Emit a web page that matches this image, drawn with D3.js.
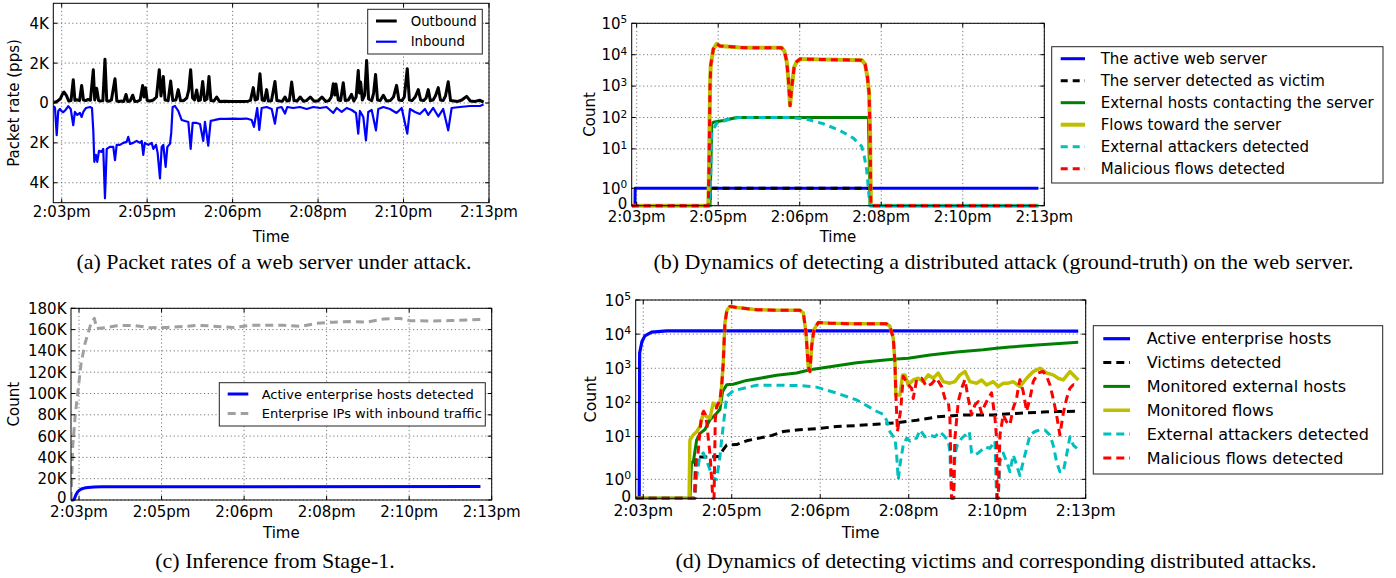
<!DOCTYPE html>
<html><head><meta charset="utf-8">
<script src="https://cdn.jsdelivr.net/npm/d3@7"></script>
<style>
body{margin:0;background:#fff}
svg text{font-family:"DejaVu Sans",sans-serif;fill:#000}
svg text.cap{font-family:"Liberation Serif","Times New Roman",serif}
</style></head>
<body><svg id="fig" width="1396" height="578"></svg>
<script>
// ---------------- DATA ----------------
const timeTicks = [0, 110, 220, 330, 440, 550];           // seconds from 2:03pm tick
const timeLabels = ["2:03pm", "2:05pm", "2:06pm", "2:08pm", "2:10pm", "2:13pm"];

// (a) packet rates [time, pps]
const aOutbound = [[-10,30],[-6,80],[-2,200],[1,450],[3,550],[6,380],[9,100],[12,120],[14.9,1170],[17,130],[20,160],[23,120],[25.7,880],[28,150],[31,120],[34,180],[37,140],[40.7,1670],[42.5,150],[45,740],[47.5,120],[50,100],[53,120],[55.7,2200],[58,110],[61,90],[64,150],[68.6,1220],[71,100],[74,80],[77,100],[80,80],[82.8,430],[85,80],[88,100],[91.4,390],[94,80],[98,90],[101,150],[104.2,880],[106,300],[108,770],[110,130],[114,100],[118,150],[122,300],[125.6,1670],[127.8,350],[130.8,1330],[133,150],[137,120],[140.3,1100],[143,120],[147,150],[150,670],[153,110],[157,120],[161,250],[163.5,650],[166,1670],[168.5,250],[171,150],[173.7,650],[176,120],[178.5,150],[181.5,1080],[184,120],[187,200],[189.6,1330],[192,120],[196,100],[199.5,300],[203,80],[210,90],[218,70],[226,80],[234,70],[240,90],[243,130],[246.6,770],[249,150],[252,200],[255.2,1470],[258,150],[261,120],[263.8,670],[266,100],[270,110],[274.5,1080],[277,120],[281,100],[284,90],[287.4,300],[290,100],[293,120],[296,1050],[299,120],[303,100],[307,300],[311,90],[315,120],[320,300],[325,90],[330,110],[335,300],[340,80],[344,120],[347,300],[349.6,970],[351.5,400],[353,950],[356,150],[359,120],[362.4,1020],[365,120],[369,150],[373,430],[376,100],[379,300],[381.7,1635],[383.2,500],[384.8,1050],[387,150],[390,400],[392.5,2135],[395,200],[399,120],[401.5,500],[404,1435],[406.5,150],[410,120],[414,385],[418,100],[423,120],[427,300],[431,885],[434,150],[438,120],[441,300],[444.8,1720],[447.5,150],[451,120],[455,300],[459,670],[462,150],[466,120],[469,250],[471.8,670],[474.5,120],[478,150],[481,350],[484.7,770],[487.5,150],[491,120],[494,350],[497.5,1070],[500.5,120],[505,100],[510,80],[515,150],[521.2,335],[526,100],[532,80],[538.3,135],[543,40]];
const aInbound = [[-10,-150],[-8.6,-250],[-6.4,-1615],[-4.4,-400],[-2.2,-300],[0,-420],[2,-460],[5,-350],[8.5,-160],[11.6,-300],[14.9,-1115],[17,-450],[20,-600],[23.5,-500],[25.7,-700],[27.8,-450],[31.3,-250],[36.4,-200],[39,-250],[40.7,-1400],[42,-2950],[44,-2600],[45.8,-2950],[48,-2400],[51.5,-2450],[53.5,-2300],[55.7,-4780],[58,-2300],[62,-2200],[66.4,-2200],[68.6,-2870],[70.8,-2100],[75,-2100],[79.3,-2000],[83.6,-1950],[85.7,-1700],[88,-2050],[92,-2000],[96.5,-1900],[100.8,-2000],[103,-1900],[105,-2600],[107,-2000],[111.5,-2100],[115.8,-2000],[118,-2300],[121.4,-2100],[123.5,-2500],[126.5,-3780],[128.7,-2200],[130.8,-2100],[133.8,-3200],[136,-2200],[139.4,-2050],[141,-1500],[142.8,-200],[145.8,-150],[150,-400],[154.4,-850],[158.7,-900],[163,-950],[166,-2300],[168.6,-1000],[173.7,-1000],[178,-1050],[182.2,-1900],[184.4,-950],[188.6,-2140],[191.8,-900],[197.3,-850],[203.7,-800],[212.3,-800],[220.8,-780],[229.5,-800],[238,-780],[244.5,-850],[247.5,-1200],[249.7,-700],[251.7,-250],[254.3,-1350],[257.4,-250],[263.8,-200],[270.3,-300],[274.5,-1035],[277.5,-250],[283,-200],[287.4,-530],[290.3,-200],[298,-250],[306.7,-200],[315.3,-300],[323.8,-200],[332.4,-250],[341,-200],[349.6,-500],[354,-250],[360.4,-450],[366.8,-250],[373.2,-350],[378.8,-500],[381.7,-1535],[383.9,-400],[388.2,-700],[391.6,-1870],[394.6,-450],[399,-350],[404.5,-1370],[407.5,-300],[414,-200],[422.5,-300],[431,-500],[437.6,-250],[444.8,-1535],[448.3,-300],[454.7,-450],[461,-550],[467.6,-300],[471.8,-600],[478.2,-250],[484.7,-680],[491,-300],[497.5,-1370],[501.9,-250],[512.6,-200],[525.5,-150],[538.3,-150],[543,-80]];
const aTickValues = [-4000, -2000, 0, 2000, 4000];
const aTickLabels = ["4K", "2K", "0", "2K", "4K"];
const aLegend = ["Outbound", "Inbound"];

// (b) ground-truth detection [time, count]
const bServer = [[-6.7,0],[-2.3,0],[-2,1],[542,1]];
const bVictim = [[-6.7,0],[99,0],[99.5,1],[315,1],[315.5,0],[542,0]];
const bHosts = [[-6.7,0],[99,0],[101.3,63],[103.4,70],[117,80],[126,90],[135,100],[312.7,100],[315,0],[542,0]];
const bFlows = [[-6.7,0],[96.7,0],[97.6,2.7],[99,1000],[99.9,4500],[103.4,15000],[108,22000],[112.5,19000],[139.5,17000],[162,16500],[195.7,16500],[199.3,13000],[202.5,6000],[204.7,1650],[207,240],[209.2,900],[212.4,3900],[216,6000],[220.5,7300],[252,7000],[303.7,6700],[308.2,5000],[311.3,2000],[313.6,600],[315,30],[316,0],[542,0]];
const bAttackers = [[-6.7,0],[98,0],[99.5,1],[100.5,10],[101.5,35],[108,65],[126,90],[139.5,100],[207,100],[229.5,88],[252,63],[274.5,38],[292.4,22],[303.7,12],[307,6],[310.5,2],[313.6,0.5],[315,0],[542,0]];
const bMalicious = [[-6.7,0],[96.7,0],[97.6,2.7],[99,1000],[99.9,4500],[103.4,15000],[108,22000],[112.5,19000],[139.5,17000],[162,16500],[195.7,16500],[199.3,13000],[202.5,6000],[204.7,1650],[207,240],[209.2,900],[212.4,3900],[216,6000],[220.5,7300],[252,7000],[303.7,6700],[308.2,5000],[311.3,2000],[313.6,600],[315,30],[316,0],[542,0]];
const bLegend = ["The active web server", "The server detected as victim", "External hosts contacting the server", "Flows toward the server", "External attackers detected", "Malicious flows detected"];

// (c) stage-1 inference [time, count]
const cHosts = [[-10.5,0],[-8,0],[-6,1500],[-4,5000],[-2,7500],[0,9000],[3,10300],[7,11200],[12,11800],[20,12200],[30,12400],[60,12500],[535,12600]];
const cInboundIPs = [[-10.7,0],[-8.4,50000],[-5.3,78000],[-1.8,100000],[2.7,128000],[8,147000],[14.7,163000],[20.4,170600],[23.6,161000],[37,162000],[50,163700],[72,164000],[95,161800],[117,162000],[139,163000],[161,164000],[184,163000],[206,162000],[228,164000],[250,164000],[272,164000],[295,163000],[317,166000],[339,167000],[361,167500],[384,167000],[406,170000],[428,170500],[441,168400],[472,168000],[495,168500],[517,169000],[535,169500]];
const cTickValues = [0,20000,40000,60000,80000,100000,120000,140000,160000,180000];
const cTickLabels = ["0","20K","40K","60K","80K","100K","120K","140K","160K","180K"];
const cLegend = ["Active enterprise hosts detected", "Enterprise IPs with inbound traffic"];

// (d) victims and distributed attacks [time, count]
const dHosts = [[-9.4,0],[-5,0],[-4.5,2800],[-1.7,6000],[2,8900],[10.4,11500],[29,12500],[300,12500],[540.7,12300]];
const dVictims = [[-9.4,0],[64,0],[65,2.5],[80,2.5],[95,2.6],[99,4],[103.7,5.6],[116,5.8],[128.5,7.5],[149,9.5],[160,10.8],[174,14],[190.7,15.6],[215.5,17],[240.4,19.6],[265.3,21],[294.2,23.4],[312,25],[340,30],[366,38],[400,43],[435,43],[468,48],[497,52],[514,54],[540,55]];
const dExtHosts = [[-9.4,0],[58,0],[60,1.9],[62.2,1.9],[66.4,8],[70.5,12.4],[76.7,16],[82.9,31],[87,38],[91.2,48],[95.3,62],[98.7,210],[103.7,330],[111.9,340],[128.5,440],[145,510],[165.8,620],[190.7,730],[207.2,900],[240.4,1180],[265.3,1450],[294.2,1700],[310.8,1850],[329.4,1970],[356.4,2450],[389.6,3000],[422.6,3500],[439.2,3880],[455.8,4200],[489,4800],[540.7,5800]];
const dFlows = [[-9.4,0],[57,0],[58,7.9],[62.2,11.2],[66.4,13.8],[70.5,19.6],[74.6,48],[78.8,38],[82.9,35],[87,95],[91.2,75],[95.3,95],[97.4,290],[99.4,1400],[101.5,21000],[104,50000],[107.8,65000],[116,60000],[141,52000],[165.8,50000],[194.8,50000],[199,42000],[202.3,11000],[205.1,1100],[207.2,800],[209.3,4400],[212.2,13500],[217.6,22000],[232,21000],[265,20000],[302.5,20000],[306.6,17000],[310.8,7600],[312.9,1400],[314,165],[319.1,165],[322.4,640],[325.3,640],[329.4,324],[335.6,455],[341.8,510],[348,405],[354.3,640],[360.5,510],[366.7,725],[372.9,405],[381.2,365],[387.4,405],[393.7,640],[399.9,800],[406.1,405],[414.4,365],[420.6,455],[426.8,324],[435.1,405],[441.3,290],[447.5,365],[453.7,365],[459.9,405],[468.2,290],[476.6,510],[484.8,800],[493.1,1000],[501.4,725],[509.6,640],[515.8,510],[522.1,455],[530.4,800],[538.7,510],[541,455]];
const dAttackers = [[-9.4,0],[64,0],[66,1],[70,2.5],[74.6,3.3],[78.8,2],[82.9,1.5],[87,1.06],[91.2,1],[95.3,2.6],[97.4,8],[99.4,20],[103.7,150],[111.9,220],[125,260],[141,320],[165.8,320],[194.8,310],[215.5,280],[240.4,187],[265.3,118],[280,75],[290,55],[298.3,45],[302.5,30],[306.6,14],[310.8,10],[312.9,8.9],[315,2.9],[317,0.97],[319.1,1.76],[321.2,2.9],[323.2,5.6],[327.4,8.9],[331.5,7.4],[335.6,8.9],[339.8,8.9],[344,15.6],[350.2,9.8],[356.4,11],[362.6,9.8],[368.8,13.8],[375,9.8],[379.2,7.4],[381.2,3.5],[383.3,0],[386.2,0],[387.4,2.9],[390.3,5.6],[395.8,8.9],[402,12],[405.3,14],[408.2,3.3],[412.3,2.9],[416.5,3.3],[420.6,4],[424.7,5],[430.9,4.5],[437.2,7.4],[439.2,0],[441.3,0],[443.4,1.93],[447.5,3.3],[451.7,1.93],[455.8,1.4],[459.9,2.9],[464.1,1.76],[468.2,1.2],[472.3,1.93],[476.6,4.5],[480.7,11],[486.9,14],[493.1,15.6],[499.3,15.6],[505.5,11],[509.6,5.6],[513.8,1.93],[517.9,1.4],[522.1,1.4],[526.3,2.9],[530.4,9.8],[534.6,5.6],[539,4.5]];
const dMalicious = [[-9.4,0],[64,0],[66,2],[68,3],[70.5,15],[72.5,40],[75,55],[77,45],[79,25],[81,8],[83,3],[85,1],[86.5,0],[88,0],[89.5,31],[91.2,75],[95.3,117],[97.4,290],[99.4,1400],[101.5,21000],[104,50000],[107.8,65000],[116,60000],[141,52000],[165.8,50000],[194.8,50000],[199,42000],[202.3,11000],[205.1,1100],[207.2,800],[209.3,4400],[212.2,13500],[217.6,22000],[232,21000],[265,20000],[302.5,20000],[306.6,17000],[310.8,7600],[312.9,1400],[314,165],[316,14],[318,30],[320,60],[323.2,580],[329.4,330],[333.6,260],[335.6,130],[339.8,460],[346,510],[352.2,290],[358.5,350],[364.6,510],[370.9,290],[375,130],[379.2,106],[381.2,35],[383.3,0],[385.4,0],[387.4,8.9],[391.6,106],[395.8,260],[399.9,460],[404,130],[408.2,43],[412.3,85],[416.5,106],[420.6,48],[424.7,85],[428.9,130],[433,190],[437.2,35],[439.2,8.9],[440,0],[441.3,0],[443.4,11],[447.5,43],[451.7,27],[455.8,22],[459.9,68],[464.1,130],[466.1,260],[468.2,460],[472.3,210],[476.6,55],[480.7,130],[484.8,410],[491,730],[497.2,800],[501.4,580],[505.5,330],[509.6,130],[513.8,43],[517.9,11],[522.1,48],[526.3,130],[530.4,260],[534.6,330],[538,300]];
const dLegend = ["Active enterprise hosts", "Victims detected", "Monitored external hosts", "Monitored flows", "External attackers detected", "Malicious flows detected"];

const logTickValues = [0, 1, 10, 100, 1000, 10000, 100000];
const logTickExp = ["", "0", "1", "2", "3", "4", "5"];

const captions = [
  "(a) Packet rates of a web server under attack.",
  "(b) Dynamics of detecting a distributed attack (ground-truth) on the web server.",
  "(c) Inference from Stage-1.",
  "(d) Dynamics of detecting victims and corresponding distributed attacks."
];

// ---------------- DRAWING ----------------
const svg = d3.select("#fig");
const LS = 1 / 0.9;                    // symlog: linthresh 2, linscale 1
const symT = v => v < 2 ? v * LS / 2 : LS + Math.log10(v / 2);

const C = {blue:"#0000ff", black:"#000000", green:"#008000", yellow:"#bfbf00", cyan:"#00bfbf", red:"#ff0000", gray:"#a0a0a0"};

let clipId = 0;
function panel(p) {
  const g = svg.append("g");
  const x = d3.scaleLinear().domain([p.x0, 550]).range([p.L, p.R]);
  const ys = d3.scaleLinear().domain(p.yDom).range([p.B, p.T]);
  const y = v => ys(p.tf ? p.tf(v) : v);
  const grid = g.append("g").attr("stroke", "#555").attr("stroke-width", 0.8).attr("stroke-dasharray", "1.2,2.6");
  timeTicks.forEach(t => grid.append("line").attr("x1", x(t)).attr("x2", x(t)).attr("y1", p.T).attr("y2", p.B));
  p.yTicks.forEach(v => grid.append("line").attr("x1", p.L).attr("x2", p.R).attr("y1", y(v)).attr("y2", y(v)));
  const id = "clip" + (clipId++);
  svg.append("clipPath").attr("id", id).append("rect").attr("x", p.L).attr("y", p.T - 2).attr("width", p.R - p.L).attr("height", p.B - p.T + 4);
  const lg = g.append("g").attr("clip-path", `url(#${id})`);
  const line = d3.line().x(d => x(d[0])).y(d => y(d[1]));
  const order = p.drawOrder || p.series.map((s, i) => i);
  order.forEach(i => {
    const s = p.series[i];
    lg.append("path").attr("d", line(s.data)).attr("fill", "none").attr("stroke", s.color)
      .attr("stroke-width", s.w).attr("stroke-dasharray", s.dash || null).attr("stroke-linejoin", "round");
  });
  // frame
  g.append("rect").attr("x", p.L).attr("y", p.T).attr("width", p.R - p.L).attr("height", p.B - p.T)
    .attr("fill", "none").attr("stroke", "#000").attr("stroke-width", 1);
  // ticks (inward, all sides)
  const tk = g.append("g").attr("stroke", "#000").attr("stroke-width", 1);
  timeTicks.forEach(t => {
    tk.append("line").attr("x1", x(t)).attr("x2", x(t)).attr("y1", p.B).attr("y2", p.B - 4);
    tk.append("line").attr("x1", x(t)).attr("x2", x(t)).attr("y1", p.T).attr("y2", p.T + 4);
  });
  p.yTicks.forEach(v => {
    tk.append("line").attr("x1", p.L).attr("x2", p.L + 4).attr("y1", y(v)).attr("y2", y(v));
    tk.append("line").attr("x1", p.R).attr("x2", p.R - 4).attr("y1", y(v)).attr("y2", y(v));
  });
  // x labels
  timeTicks.forEach((t, i) => g.append("text").attr("x", x(t)).attr("y", p.B + p.xtOff).attr("text-anchor", "middle")
    .attr("font-size", p.fs).text(timeLabels[i]));
  // y labels (the label sitting on the bottom edge is lifted slightly)
  p.yTicks.forEach((v, i) => {
    const yy = Math.abs(y(v) - p.B) < 0.5 ? y(v) - 2 : y(v);
    const tx = g.append("text").attr("x", p.L - 4.5).attr("y", yy).attr("dy", "0.36em").attr("text-anchor", "end").attr("font-size", p.fs);
    if (p.yExp && p.yExp[i] !== "") {
      tx.append("tspan").text("10");
      tx.append("tspan").attr("dy", "-0.5em").attr("font-size", "0.7em").text(p.yExp[i]);
    } else tx.text(p.yLabels[i]);
  });
  g.append("text").attr("x", (p.L + p.R) / 2).attr("y", p.xlY).attr("text-anchor", "middle").attr("font-size", p.fs).text("Time");
  g.append("text").attr("transform", `translate(${p.ylX},${(p.T + p.B) / 2}) rotate(-90)`).attr("dy", "0.35em")
    .attr("text-anchor", "middle").attr("font-size", p.fs).text(p.ylab);
  // legend
  const L = p.leg;
  g.append("rect").attr("x", L.x0).attr("y", L.y0).attr("width", L.x1 - L.x0).attr("height", L.y1 - L.y0)
    .attr("fill", "#fff").attr("stroke", "#222").attr("stroke-width", 1);
  p.series.forEach((s, i) => {
    const yy = L.ey + i * L.dy;
    g.append("line").attr("x1", L.sx0).attr("x2", L.sx1).attr("y1", yy).attr("y2", yy)
      .attr("stroke", s.color).attr("stroke-width", s.w).attr("stroke-dasharray", s.dash || null);
    g.append("text").attr("x", L.tx).attr("y", yy).attr("dy", "0.36em").attr("font-size", L.fs).text(L.labels[i]);
  });
}

// (a)
panel({L:53.3, R:489, T:3.3, B:202.7, x0:-10.8, yDom:[-5000, 5000],
  yTicks:aTickValues, yLabels:aTickLabels, fs:15, xtOff:14.5, xlY:242, ylX:13.5, ylab:"Packet rate (pps)",
  series:[{data:aOutbound, color:C.black, w:3}, {data:aInbound, color:C.blue, w:2.2}], drawOrder:[1, 0],
  leg:{x0:367.7, x1:482.3, y0:9.3, y1:54, ey:21, dy:20.7, sx0:376, sx1:396.7, tx:410.7, fs:13.3, labels:aLegend}});

// (b)
panel({L:631.7, R:1044.3, T:23.3, B:205.7, x0:-6.7, yDom:[0, symT(1e5)], tf:symT,
  yTicks:logTickValues, yLabels:["0"], yExp:logTickExp, fs:15, xtOff:16.5, xlY:241.5, ylX:590, ylab:"Count",
  series:[
    {data:bServer, color:C.blue, w:3},
    {data:bVictim, color:C.black, w:3, dash:"7,5"},
    {data:bHosts, color:C.green, w:3},
    {data:bFlows, color:C.yellow, w:4},
    {data:bAttackers, color:C.cyan, w:3, dash:"7,5"},
    {data:bMalicious, color:C.red, w:3, dash:"7,5"}],
  leg:{x0:1051.7, x1:1383, y0:46.7, y1:183, ey:58.7, dy:22, sx0:1060.7, sx1:1085, tx:1100.7, fs:15, labels:bLegend}});

// (c)
panel({L:71, R:491.7, T:308.3, B:500, x0:-10.7, yDom:[0, 180000],
  yTicks:cTickValues, yLabels:cTickLabels, fs:15, xtOff:17, xlY:538, ylX:13.5, ylab:"Count",
  series:[{data:cHosts, color:C.blue, w:3}, {data:cInboundIPs, color:C.gray, w:3, dash:"8,5"}],
  leg:{x0:219.3, x1:485.3, y0:382.7, y1:426, ey:394, dy:19.6, sx0:227.7, sx1:248.3, tx:261.7, fs:13, labels:cLegend}});

// (d)
panel({L:635.7, R:1085.7, T:300, B:498.3, x0:-9.4, yDom:[0, symT(1e5)], tf:symT,
  yTicks:logTickValues, yLabels:["0"], yExp:logTickExp, fs:15.5, xtOff:17.5, xlY:538, ylX:591, ylab:"Count",
  series:[
    {data:dHosts, color:C.blue, w:3.2},
    {data:dVictims, color:C.black, w:3, dash:"8,5"},
    {data:dExtHosts, color:C.green, w:3},
    {data:dFlows, color:C.yellow, w:3.5},
    {data:dAttackers, color:C.cyan, w:3, dash:"8,5"},
    {data:dMalicious, color:C.red, w:3, dash:"8,5"}],
  leg:{x0:1093.3, x1:1382.7, y0:325.7, y1:474, ey:338.7, dy:23.85, sx0:1103.3, sx1:1130, tx:1146.7, fs:16, labels:dLegend}});

// captions
[[274, 268.5], [1003.5, 268.5], [275, 568], [996, 568]].forEach((c, i) =>
  svg.append("text").attr("class", "cap").attr("x", c[0]).attr("y", c[1]).attr("text-anchor", "middle")
    .attr("font-size", 22).text(captions[i]));
</script>
</body></html>
